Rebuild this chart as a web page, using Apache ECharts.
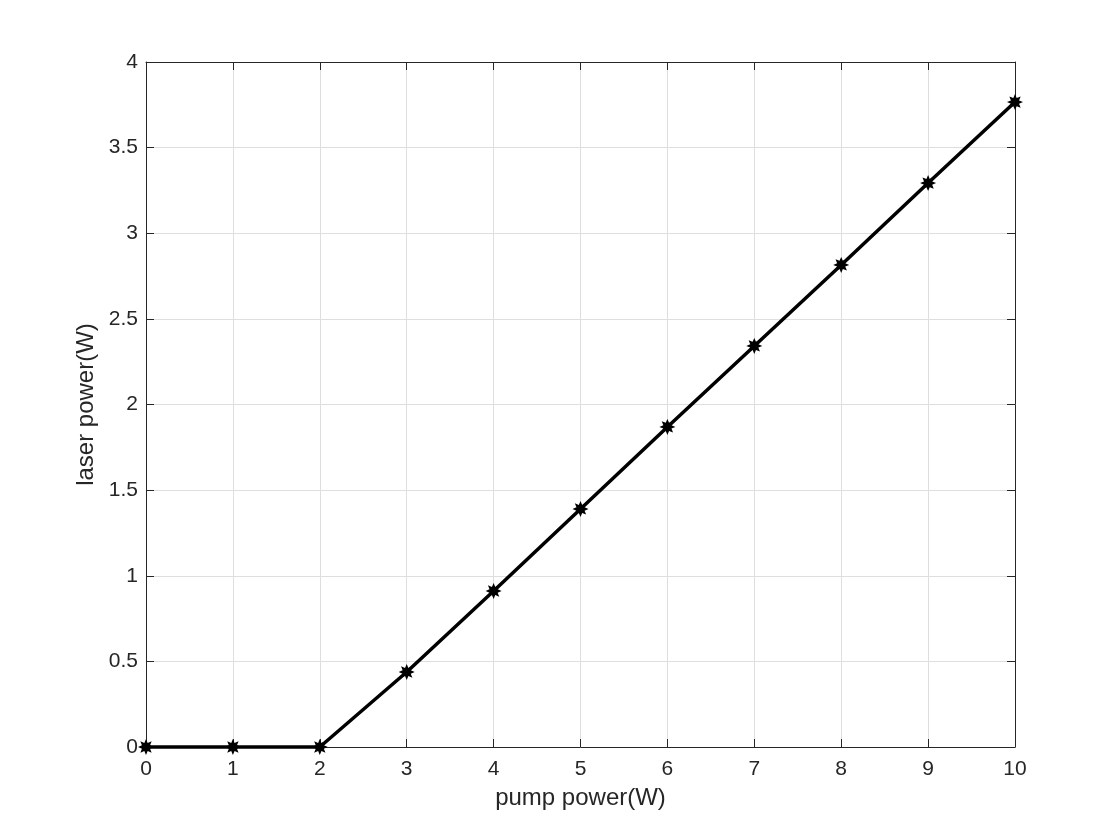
<!DOCTYPE html>
<html><head><meta charset="utf-8">
<script src="https://cdn.jsdelivr.net/npm/echarts@6/dist/echarts.min.js"></script>
<style>html,body{margin:0;padding:0;background:#fff}#c{width:1120px;height:840px}</style>
</head><body><div id="c"></div>
<script>
const pumpPower = [0, 1, 2, 3, 4, 5, 6, 7, 8, 9, 10];
const laserPower = [0, 0, 0, 0.438, 0.911, 1.39, 1.869, 2.342, 2.815, 3.293, 3.766];
const xTicks = [0, 10, 1];
const yTicks = [0, 4, 0.5];

// asterisk-like star marker path
let pts = [];
for (let k = 0; k < 16; k++) {
  const a = k * Math.PI / 8;
  const r = k % 2 === 0 ? 10 : 5.5;
  pts.push((r * Math.sin(a)).toFixed(2) + ' ' + (-r * Math.cos(a)).toFixed(2));
}
const starPath = 'path://M' + pts.join(' L') + ' Z';

const font = 'Liberation Sans, Arial, Helvetica, sans-serif';
const axisCommon = {
  axisLine: { show: true, onZero: false, lineStyle: { color: '#262626', width: 1 } },
  axisTick: { show: true, inside: true, length: 8, lineStyle: { color: '#262626', width: 1 } },
  splitLine: { show: false },
};
const chart = echarts.init(document.getElementById('c'));
chart.setOption({
  animation: false,
  backgroundColor: '#fff',
  grid: { left: 146, right: 105, top: 62, bottom: 93 },
  xAxis: [
    Object.assign({}, axisCommon, {
      type: 'value', min: xTicks[0], max: xTicks[1], interval: xTicks[2], position: 'bottom',
      name: 'pump power(W)', nameLocation: 'middle', nameGap: 39,
      nameTextStyle: { fontFamily: font, fontSize: 24, color: '#262626' },
      axisLabel: { fontFamily: font, fontSize: 21, color: '#262626', margin: 12 },
      splitLine: { show: true, lineStyle: { color: '#dedede', width: 1 } }
    }),
    Object.assign({}, axisCommon, {
      type: 'value', min: xTicks[0], max: xTicks[1], interval: xTicks[2], position: 'top',
      axisLabel: { show: false }
    })
  ],
  yAxis: [
    Object.assign({}, axisCommon, {
      type: 'value', min: yTicks[0], max: yTicks[1], interval: yTicks[2], position: 'left',
      name: 'laser power(W)', nameLocation: 'middle', nameGap: 45, nameRotate: 90,
      nameTextStyle: { fontFamily: font, fontSize: 24, color: '#262626' },
      axisLabel: { fontFamily: font, fontSize: 21, color: '#262626', margin: 8 },
      splitLine: { show: true, lineStyle: { color: '#dedede', width: 1 } }
    }),
    Object.assign({}, axisCommon, {
      type: 'value', min: yTicks[0], max: yTicks[1], interval: yTicks[2], position: 'right',
      axisLabel: { show: false }
    })
  ],
  series: [{
    type: 'line',
    data: pumpPower.map((x, i) => [x, laserPower[i]]),
    xAxisIndex: 0, yAxisIndex: 0,
    lineStyle: { color: '#000', width: 3.5 },
    itemStyle: { color: '#000' },
    symbol: starPath,
    symbolSize: 16,
    showSymbol: true,
    clip: false
  }]
});
</script></body></html>
